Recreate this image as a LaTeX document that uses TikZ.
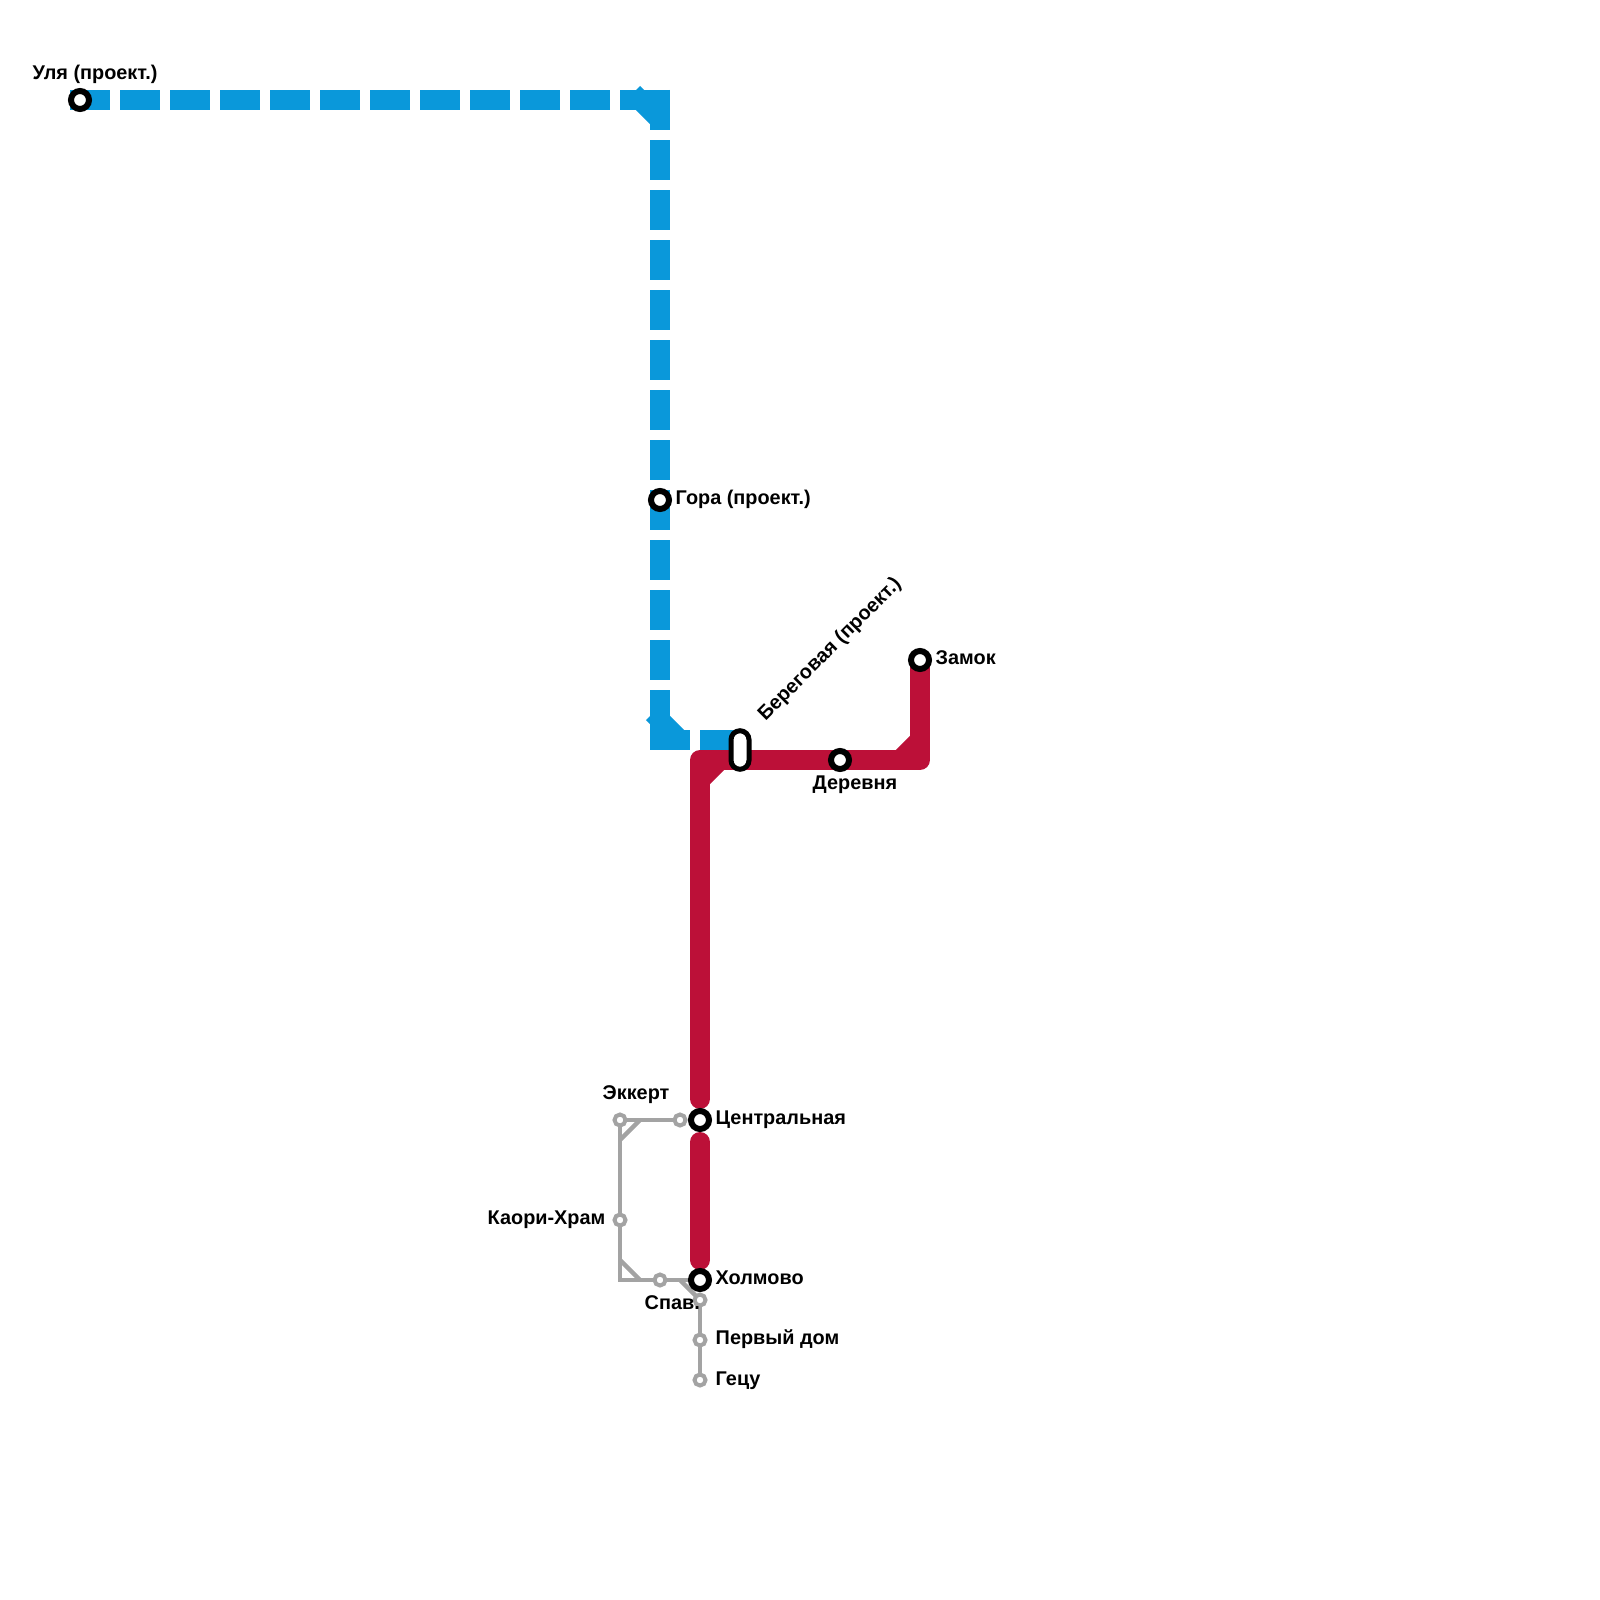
\documentclass[tikz,border=0pt]{standalone}
\usepackage{fontspec}
\setmainfont{Liberation Sans}
\usetikzlibrary{backgrounds}
\definecolor{lineblue}{HTML}{0A98DA}
\definecolor{linered}{HTML}{BC1038}
\definecolor{linegray}{HTML}{A3A3A3}
\tikzset{
  blueline/.style={line width=0.2cm, color=lineblue},
  bluedash/.style={blueline, dash pattern=on 0.4cm off 0.1cm},
  redline/.style={line width=0.2cm, color=linered},
  grayline/.style={line width=0.045cm, color=linegray},
  station/.style={circle, draw=black, fill=white, line width=0.06cm, minimum size=0.18cm, inner sep=0pt, outer sep=0pt},
  halt/.style={circle, draw=linegray, fill=white, line width=0.04cm, minimum size=0.11cm, inner sep=0pt, outer sep=0pt},
  interchange/.style={rectangle, rounded corners=0.09cm, draw=black, fill=white, line width=0.05cm, minimum width=0.18cm, minimum height=0.385cm, inner sep=0pt, outer sep=0pt},
  label/.style={anchor=base west, inner sep=0pt, font=\fontsize{5.65pt}{6.5pt}\selectfont\bfseries, text=black},
}
\begin{document}
\begin{tikzpicture}[x=0.01cm, y=-0.01cm]
  \useasboundingbox (0,0) rectangle (1600,1600);
  % blue line stations
  \node[station] (ulya) at (80,100) {};
  \node[station] (gora) at (660,500) {};
  \node[interchange] (bereg) at (740,750) {};
  % red line stations
  \node[station] (derev) at (840,760) {};
  \node[station] (zamok) at (920,660) {};
  \node[station] (centr) at (700,1120) {};
  \node[station] (holm) at (700,1280) {};
  % gray line stations
  \node[halt] (ekkert) at (620,1120) {};
  \node[halt] (ekkertb) at (680,1120) {};
  \node[halt] (kaori) at (620,1220) {};
  \node[halt] (spav) at (660,1280) {};
  \node[halt] (holmb) at (700,1300) {};
  \node[halt] (perv) at (700,1340) {};
  \node[halt] (getsu) at (700,1380) {};
  % bends and free ends
  \coordinate (bluestart) at (70,100);
  \coordinate (bluecorner) at (660,100);
  \coordinate (bluetop) at (660,90);
  \coordinate (bluebot) at (660,750);
  \coordinate (bluelow) at (650,740);
  \coordinate (blueend) at (740,740);
  \coordinate (redcorner) at (700,760);
  \coordinate (redright) at (920,760);
  \coordinate (redstop) at (700,1099);
  \coordinate (grayturn) at (620,1280);
  \begin{scope}[on background layer]
    % blue
    \draw[bluedash] (bluestart) -- (bluecorner);
    \draw[bluedash] (bluetop) -- (bluebot);
    \draw[bluedash] (bluelow) -- (blueend);
    \draw[blueline] (633,93) -- (660,120);
    \draw[blueline] (653,713) -- (680,740);
    % red
    \draw[redline, line cap=round, line join=round] (redstop) -- (redcorner) -- (redright) -- (zamok.center);
    \draw[redline, line cap=round] (700,1142) -- (700,1260);
    \draw[redline] (700,780) -- (720,760);
    \draw[redline] (900,760) -- (920,740);
    % gray
    \draw[grayline] (ekkert) -- (ekkertb);
    \draw[grayline] (620,1140) -- (640,1120);
    \draw[grayline] (ekkert) -- (kaori);
    \draw[grayline] (kaori) -- (grayturn) -- (holm.center);
    \draw[grayline] (620,1260) -- (640,1280);
    \draw[grayline] (680,1280) -- (holmb);
    \draw[grayline] (holmb) -- (perv);
    \draw[grayline] (perv) -- (getsu);
  \end{scope}
  % labels
  \node[label] (ulyat) at (32,80) {Уля (проект.)};
  \node[label] (gorat) at (675,504) {Гора (проект.)};
  \node[label, rotate=45] (beregt) at (765,722) {Береговая (проект.)};
  \node[label] (zamokt) at (935,664) {Замок};
  \node[label] (derevt) at (812,789) {Деревня};
  \node[label] (ekkertt) at (602,1099) {Эккерт};
  \node[label] (centrt) at (715,1124) {Центральная};
  \node[label] (kaorit) at (487,1224) {Каори-Храм};
  \node[label] (holmt) at (715,1284) {Холмово};
  \node[label] (spavt) at (644,1309) {Спав.};
  \node[label] (pervt) at (715,1344) {Первый дом};
  \node[label] (getsut) at (715,1385) {Гецу};
\end{tikzpicture}
\end{document}
